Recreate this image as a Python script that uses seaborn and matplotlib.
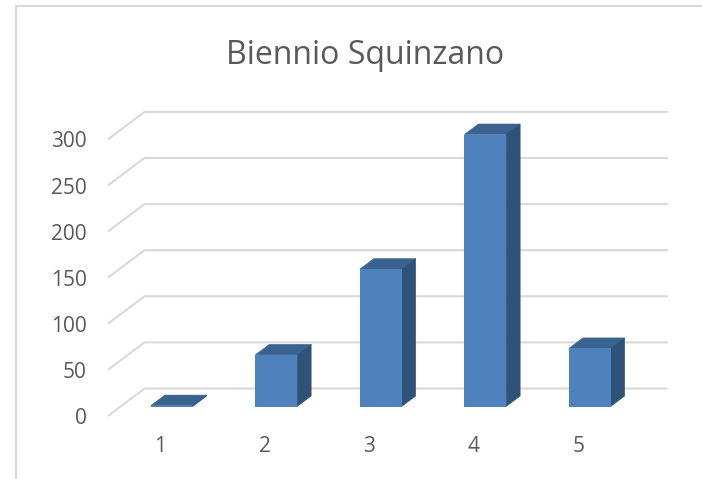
#!/usr/bin/env python3
"""Biennio Squinzano: 3D-look column chart drawn on a flat seaborn barplot."""

import matplotlib
matplotlib.use("Agg")
import matplotlib.pyplot as plt
import matplotlib.transforms as mtrans
from matplotlib.lines import Line2D
from matplotlib.patches import Polygon
import pandas as pd
import seaborn as sns

CATEGORIES = ["1", "2", "3", "4", "5"]
VALUES = [1, 56, 149, 295, 63]
Y_TICKS = [0, 50, 100, 150, 200, 250, 300]
TITLE = "Biennio Squinzano"

FRONT = "#4F81BD"
TOP = "#3A6391"
SIDE = "#2F5279"
GRID = "#D9D9D9"
TEXT = "#595959"

W, H = 702, 479
# bar plane in pixels: value 0 at y=406, 104.5 px per category, 0.922 px per unit
LEFT, RIGHT, BASE, TOP_PX = 119.5, 642, 406.5, 129.9
BAR_DEPTH = (14, 10.5)
FRONT_OFF = (-11, -9)
BACK_OFF = (25, 18)

sns.set_theme(style="white")
plt.rcParams["font.family"] = ["Open Sans", "DejaVu Sans"]

df = pd.DataFrame({"cat": CATEGORIES, "val": VALUES})

fig = plt.figure(figsize=(W / 100, H / 100), dpi=100)
ax = fig.add_axes([LEFT / W, 1 - BASE / H, (RIGHT - LEFT) / W, (BASE - TOP_PX) / H])
sns.barplot(data=df, x="cat", y="val", color=FRONT, saturation=1, width=0.4, ax=ax, zorder=4)
ax.set_xlim(-0.5, 4.5)
ax.set_ylim(0, 300)
ax.set_xlabel("")
ax.set_ylabel("")
sns.despine(ax=ax, left=True, bottom=True)
ax.patch.set_alpha(0)

sx = (RIGHT - LEFT) / 5
sy = (BASE - TOP_PX) / 300


def shift(x, y, off):
    return x + off[0] / sx, y + off[1] / sy


# gridlines: side wall then back wall
for v in Y_TICKS:
    x0, y0 = shift(-0.5, v, FRONT_OFF)
    x1, y1 = shift(-0.5, v, BACK_OFF)
    x2, y2 = shift(4.5, v, BACK_OFF)
    ax.plot([x0, x1, x2], [y0, y1, y2], color=GRID, lw=1.5, clip_on=False, zorder=1,
            solid_joinstyle="miter")

# top and side faces from the bars seaborn drew
for bar in list(ax.patches):
    bar.set_edgecolor("none")
    xl, xr = bar.get_x(), bar.get_x() + bar.get_width()
    yt = bar.get_height()
    tl, tr = shift(xl, yt, BAR_DEPTH), shift(xr, yt, BAR_DEPTH)
    br = shift(xr, 0, BAR_DEPTH)
    ax.add_patch(Polygon([(xl, yt), (xr, yt), tr, tl], closed=True, fc=TOP, ec=TOP, lw=0.4,
                         clip_on=False, zorder=3))
    ax.add_patch(Polygon([(xr, 0), br, tr, (xr, yt)], closed=True, fc=SIDE, ec=SIDE, lw=0.4,
                         clip_on=False, zorder=3))

# tick labels sit on the front plane (pad is in points)
ax.set_yticks(Y_TICKS)
ax.set_yticklabels([str(v) for v in Y_TICKS])
ax.tick_params(axis="y", length=0, pad=23.5, labelsize=15, labelcolor=TEXT)
ax.tick_params(axis="x", length=0, pad=21.5, labelsize=15, labelcolor=TEXT)
for lab in ax.get_yticklabels():
    lab.set_transform(lab.get_transform() + mtrans.Affine2D().translate(0, -9.5))
for lab in ax.get_xticklabels():
    lab.set_transform(lab.get_transform() + mtrans.Affine2D().translate(-11.5, 0))

fig.text(365.5 / W, 1 - 55 / H, TITLE, ha="center", va="center", fontsize=23, color=TEXT)

# chart area frame, cropped at right and bottom
fig.add_artist(Line2D([16 / W, 16 / W], [0, 1 - 6 / H], color=GRID, lw=1.5))
fig.add_artist(Line2D([16 / W, 1], [1 - 6 / H, 1 - 6 / H], color=GRID, lw=1.5))

fig.savefig("out.png", dpi=100)
plt.close(fig)
